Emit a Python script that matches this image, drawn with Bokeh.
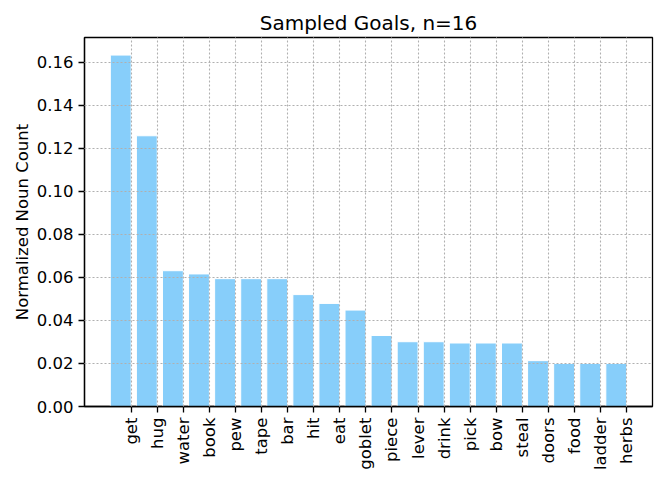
from bokeh.plotting import figure
from bokeh.models import ColumnDataSource, FixedTicker, Range1d, NumeralTickFormatter
from bokeh.embed import file_html
from bokeh.resources import INLINE
import math

# ---- data ----
nouns = ["get", "hug", "water", "book", "pew", "tape", "bar", "hit", "eat", "goblet",
         "piece", "lever", "drink", "pick", "bow", "steal", "doors", "food", "ladder", "herbs"]
counts = [0.1633, 0.1258, 0.0631, 0.0616, 0.0594, 0.0594, 0.0594, 0.0520, 0.0479, 0.0448,
          0.0330, 0.0301, 0.0301, 0.0295, 0.0295, 0.0295, 0.0213, 0.0200, 0.0200, 0.0200]
y_ticks = [0.00, 0.02, 0.04, 0.06, 0.08, 0.10, 0.12, 0.14, 0.16]
title_text = "Sampled Goals, n=16"
y_label = "Normalized Noun Count"

n = len(nouns)
idx = list(range(n))
bar_w = 0.8
src = ColumnDataSource(dict(x=[i - bar_w / 2 for i in idx], top=counts, name=nouns))

span = (n - 1) + bar_w
x0 = -bar_w - 0.05 * span
x1 = (n - 1) + 0.05 * span
y1 = max(counts) * 1.05

FONT = "DejaVu Sans"

p = figure(frame_width=568, frame_height=369, output_backend="svg", toolbar_location=None,
           x_range=Range1d(x0, x1), y_range=Range1d(0, y1),
           min_border_left=84, min_border_right=4, min_border_top=37, min_border_bottom=60,
           title=title_text)

p.vbar(x="x", width=bar_w, top="top", bottom=0, source=src,
       fill_color="#87CEFA", line_color="white", line_width=1)

p.title.align = "center"
p.title.text_font = FONT
p.title.text_font_size = "20px"
p.title.text_font_style = "normal"
p.title.text_color = "black"
p.title.standoff = 6

p.outline_line_color = "black"
p.outline_line_width = 1.3
p.outline_line_alpha = 1
p.background_fill_color = "white"
p.border_fill_color = "white"

p.xaxis.ticker = FixedTicker(ticks=idx)
p.xaxis.major_label_overrides = {i: nm for i, nm in zip(idx, nouns)}
p.xaxis.major_label_orientation = math.pi / 2
p.yaxis.ticker = FixedTicker(ticks=y_ticks)
p.yaxis.formatter = NumeralTickFormatter(format="0.00")
p.yaxis.axis_label = y_label

for ax in (p.xaxis, p.yaxis):
    ax.axis_line_color = "black"
    ax.axis_line_width = 1.3
    ax.major_tick_line_color = "black"
    ax.major_tick_line_width = 1.3
    ax.major_tick_out = 6
    ax.major_tick_in = 0
    ax.minor_tick_line_color = None
    ax.major_label_text_font = FONT
    ax.major_label_text_font_size = "16.5px"
    ax.major_label_text_color = "black"
    ax.major_label_standoff = 5
    ax.axis_label_text_font = FONT
    ax.axis_label_text_font_size = "16.5px"
    ax.axis_label_text_font_style = "normal"
    ax.axis_label_text_color = "black"
    ax.axis_label_standoff = 2

for g in (p.xgrid, p.ygrid):
    g.grid_line_color = "#b0b0b0"
    g.grid_line_dash = "2 2"
    g.grid_line_width = 1.1
    g.level = "overlay"
p.xgrid.ticker = FixedTicker(ticks=idx)
p.ygrid.ticker = FixedTicker(ticks=y_ticks)

open("out.html", "w").write(file_html(p, INLINE))
